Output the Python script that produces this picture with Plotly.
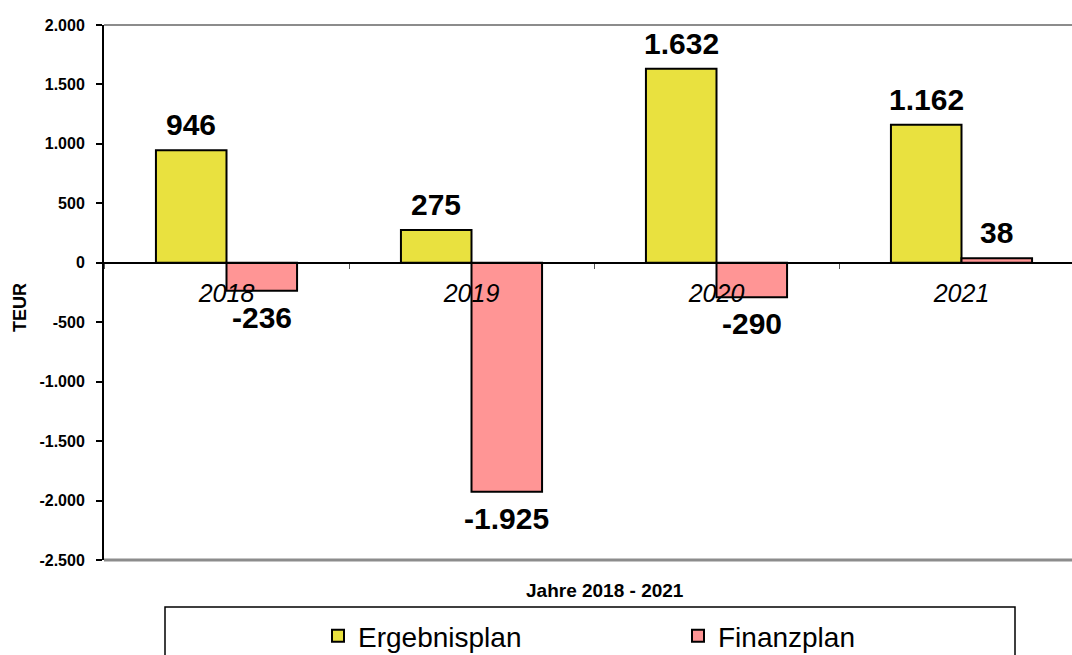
import plotly.graph_objects as go

categories = ["2018", "2019", "2020", "2021"]
ergebnisplan = [946, 275, 1632, 1162]
finanzplan = [-236, -1925, -290, 38]
series_names = ["Ergebnisplan", "Finanzplan"]
y_tickvals = [2000, 1500, 1000, 500, 0, -500, -1000, -1500, -2000, -2500]
y_ticktext = ["2.000", "1.500", "1.000", "500", "0", "-500", "-1.000", "-1.500", "-2.000", "-2.500"]

YELLOW = "#E9E13F"
PINK = "#FF9595"
FONT = "Liberation Sans, Arial, sans-serif"


def de(v):
    return f"{v:,}".replace(",", ".")


fig = go.Figure()
fig.add_trace(go.Bar(x=categories, y=ergebnisplan, name=series_names[0],
                     marker=dict(color=YELLOW, line=dict(color="black", width=2))))
fig.add_trace(go.Bar(x=categories, y=finanzplan, name=series_names[1],
                     marker=dict(color=PINK, line=dict(color="black", width=2))))

bargap = 0.424
half = (1 - bargap) / 4  # offset of each bar centre from the category centre

annotations = []
for i, cat in enumerate(categories):
    for off, vals in ((-half, ergebnisplan), (half, finanzplan)):
        v = vals[i]
        annotations.append(dict(
            x=i + off, y=v, xref="x", yref="y", text=de(v), showarrow=False,
            yanchor="bottom" if v >= 0 else "top",
            yshift=7 if v >= 0 else -8,
            font=dict(family=FONT, size=30, color="black", weight="bold"),
        ))

annotations.append(dict(text="TEUR", xref="paper", yref="paper",
                        x=(20 - 104) / 968, y=(560 - 308) / 535, textangle=-90,
                        showarrow=False, xanchor="center", yanchor="middle",
                        font=dict(family=FONT, size=18, color="black", weight="bold")))
annotations.append(dict(text="Jahre 2018 - 2021", xref="paper", yref="paper",
                        x=(605 - 104) / 968, y=(560 - 590) / 535,
                        showarrow=False, xanchor="center", yanchor="middle",
                        font=dict(family=FONT, size=19, color="black", weight="bold")))

shapes = [
    dict(type="line", xref="paper", yref="paper", x0=0, x1=1, y0=1, y1=1,
         line=dict(color="#8c8c8c", width=2)),
    dict(type="line", xref="paper", yref="paper", x0=0, x1=1, y0=0, y1=0,
         line=dict(color="#8c8c8c", width=3)),
    dict(type="rect", xref="paper", yref="paper",
         x0=(165 - 104) / 968, x1=(1015 - 104) / 968,
         y0=(560 - 700) / 535, y1=(560 - 607) / 535,
         line=dict(color="black", width=1.5), fillcolor="rgba(0,0,0,0)"),
]

fig.update_layout(
    width=1072, height=655,
    margin=dict(l=104, r=0, t=25, b=95, autoexpand=False),
    paper_bgcolor="white", plot_bgcolor="white",
    barmode="group", bargap=bargap, bargroupgap=0,
    font=dict(family=FONT, color="black"),
    showlegend=True,
    legend=dict(orientation="h", x=(318 - 104) / 968, xanchor="left",
                y=(560 - 636) / 535, yanchor="middle",
                font=dict(family=FONT, size=28, color="black"),
                entrywidth=315, entrywidthmode="pixels",
                bgcolor="rgba(0,0,0,0)", borderwidth=0, traceorder="normal"),
    annotations=annotations,
    shapes=shapes,
    xaxis=dict(type="category", range=[-0.5, 3.451], anchor="free",
               position=2500 / 4500, showline=True, linecolor="black", linewidth=1,
               ticks="outside", tickson="boundaries", ticklen=5, tickcolor="#555",
               tickfont=dict(family=FONT, size=25, color="black", style="italic"),
               ticklabelstandoff=8, automargin=False,
               showgrid=False, zeroline=False, fixedrange=True),
    yaxis=dict(range=[-2500, 2000], tickvals=y_tickvals, ticktext=y_ticktext,
               showline=True, linecolor="black", linewidth=2,
               ticks="outside", ticklen=6, tickwidth=1.5, tickcolor="black",
               tickfont=dict(family=FONT, size=16, color="black", weight="bold"),
               ticklabelstandoff=8, automargin=False,
               showgrid=False, zeroline=True, zerolinecolor="black", zerolinewidth=1),
)

fig.write_html("out.html", config={"displayModeBar": False},
               post_script="document.body.style.margin='0';document.body.style.overflow='hidden';")
